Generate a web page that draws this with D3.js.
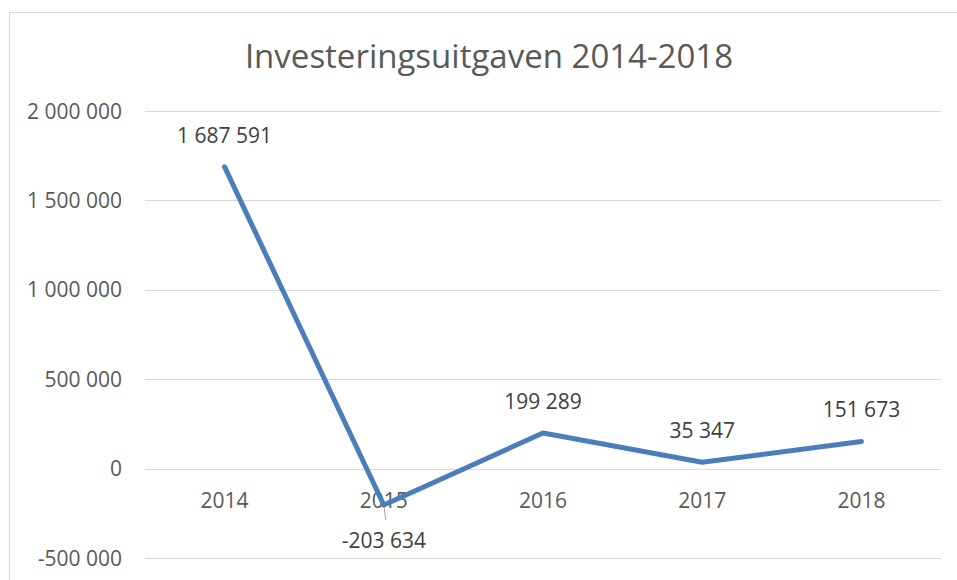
<!DOCTYPE html>
<html>
<head>
<meta charset="utf-8">
<script src="https://cdn.jsdelivr.net/npm/d3@7"></script>
<style>
  body { margin: 0; background: #fff; }
  text { font-family: "Open Sans", "Liberation Sans", sans-serif; fill: #595959; }
</style>
</head>
<body>
<script>
var years = ["2014", "2015", "2016", "2017", "2018"];
var values = [1687591, -203634, 199289, 35347, 151673];
var yTicks = [-500000, 0, 500000, 1000000, 1500000, 2000000];

var width = 957, height = 580;

var svg = d3.select("body").append("svg")
  .attr("width", width)
  .attr("height", height);

// chart frame
svg.append("rect")
  .attr("x", 9.5).attr("y", 12.5)
  .attr("width", 960).attr("height", 600)
  .attr("fill", "none")
  .attr("stroke", "#d9d9d9");

var x = d3.scaleBand().domain(years).range([145, 941]);
var y = d3.scaleLinear().domain([-500000, 2000000]).range([558, 111]);

function fmt(v) {
  var s = d3.format(",")(Math.abs(v)).replace(/,/g, " ");
  return (v < 0 ? "-" : "") + s;
}

// gridlines
svg.append("g").selectAll("line")
  .data(yTicks)
  .enter().append("line")
  .attr("x1", 145).attr("x2", 941)
  .attr("y1", d => Math.round(y(d)) + 0.5)
  .attr("y2", d => Math.round(y(d)) + 0.5)
  .attr("stroke", "#d9d9d9")
  .attr("stroke-width", 1.2);

// y labels
svg.append("g").selectAll("text")
  .data(yTicks)
  .enter().append("text")
  .attr("x", 122)
  .attr("y", d => y(d))
  .attr("dy", "0.36em")
  .attr("text-anchor", "end")
  .style("font-size", "21px")
  .text(fmt);

// x labels
svg.append("g").selectAll("text")
  .data(years)
  .enter().append("text")
  .attr("x", d => x(d) + x.bandwidth() / 2)
  .attr("y", 508)
  .attr("text-anchor", "middle")
  .style("font-size", "21px")
  .text(d => d);

// title
svg.append("text")
  .attr("x", 489)
  .attr("y", 68)
  .attr("text-anchor", "middle")
  .style("font-size", "33px")
  .text("Investeringsuitgaven 2014-2018");

var pts = years.map((d, i) => ({ year: d, value: values[i] }));

// leader line for negative label
svg.append("line")
  .attr("x1", x("2015") + x.bandwidth() / 2)
  .attr("x2", x("2015") + x.bandwidth() / 2 + 2)
  .attr("y1", y(values[1]))
  .attr("y2", y(values[1]) + 15)
  .attr("stroke", "#a6a6a6")
  .attr("stroke-width", 1);

var line = d3.line()
  .x(d => x(d.year) + x.bandwidth() / 2)
  .y(d => y(d.value));

svg.append("path")
  .datum(pts)
  .attr("d", line)
  .attr("fill", "none")
  .attr("stroke", "#4a7ebb")
  .attr("stroke-width", 5)
  .attr("stroke-linecap", "round")
  .attr("stroke-linejoin", "round");

// data labels
svg.append("g").selectAll("text")
  .data(pts)
  .enter().append("text")
  .attr("x", d => x(d.year) + x.bandwidth() / 2)
  .attr("y", d => d.value < 0 ? y(d.value) + 43 : y(d.value) - 24)
  .attr("text-anchor", "middle")
  .style("font-size", "21px")
  .style("fill", "#404040")
  .text(d => fmt(d.value));
</script>
</body>
</html>
